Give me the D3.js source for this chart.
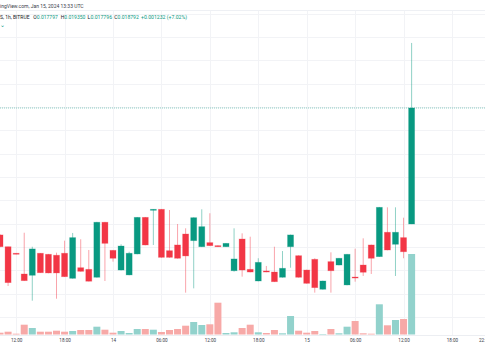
<!DOCTYPE html>
<html><head><meta charset="utf-8">
<script src="https://cdn.jsdelivr.net/npm/d3@7"></script>
<style>body{margin:0;background:#fff}svg{display:block;font-family:Roboto,"Liberation Sans",Arial,sans-serif}</style>
</head><body><svg id="c" width="485" height="360"></svg>
<script>
// hour offsets from 2024-01-14 00:00 UTC, 1h candles
const hours = [-14,-13,-12,-11,-10,-9,-8,-7,-6,-5,-4,-3,-2,-1,0,1,2,3,4,5,6,7,8,9,10,11,12,13,14,15,16,17,18,19,20,21,22,23,24,25,26,27,28,29,30,31,32,33,34,35,36,37];
const open  = [0.017703,0.017602,0.017546,0.017368,0.017357,0.017546,0.017537,0.017529,0.017546,0.017331,0.017422,0.017408,0.017340,0.017812,0.017571,0.017402,0.017360,0.017540,0.017854,0.017917,0.017923,0.017568,0.017617,0.017711,0.017654,0.017602,0.017637,0.017611,0.017602,0.017396,0.017668,0.017408,0.017308,0.017394,0.017385,0.017340,0.017602,0.017525,0.017402,0.017494,0.017237,0.017474,0.017445,0.017274,0.017342,0.017445,0.017617,0.017517,0.017726,0.017623,0.017680,0.017797];
const high  = [0.017710,0.017602,0.017548,0.017722,0.017602,0.017548,0.017540,0.017551,0.017654,0.017720,0.017666,0.017574,0.017815,0.017815,0.017574,0.017623,0.017559,0.017857,0.017857,0.017925,0.017925,0.017917,0.017797,0.017760,0.017854,0.017923,0.017889,0.017613,0.017633,0.017760,0.017717,0.017688,0.017503,0.017437,0.017602,0.017565,0.017706,0.017528,0.017405,0.017503,0.017311,0.017554,0.017506,0.017540,0.017585,0.017674,0.017620,0.017943,0.017940,0.017940,0.017851,0.019350];
const low   = [0.017598,0.017265,0.017537,0.017308,0.017139,0.017377,0.017374,0.017156,0.017342,0.017328,0.017388,0.017304,0.017337,0.017308,0.017474,0.017399,0.017357,0.017537,0.017614,0.017617,0.017508,0.017508,0.017500,0.017208,0.017245,0.017599,0.017608,0.017600,0.017600,0.017388,0.017345,0.017382,0.017305,0.017383,0.017299,0.017337,0.017422,0.017337,0.017285,0.017208,0.017234,0.017208,0.017442,0.017271,0.017302,0.017351,0.017368,0.017514,0.017571,0.017351,0.017503,0.017796];
const close = [0.017602,0.017294,0.017540,0.017311,0.017583,0.017379,0.017377,0.017377,0.017345,0.017680,0.017391,0.017306,0.017812,0.017631,0.017503,0.017608,0.017546,0.017854,0.017617,0.017923,0.017511,0.017511,0.017503,0.017523,0.017851,0.017774,0.017611,0.017602,0.017631,0.017497,0.017402,0.017385,0.017468,0.017385,0.017302,0.017417,0.017703,0.017340,0.017288,0.017251,0.017308,0.017396,0.017503,0.017537,0.017334,0.017383,0.017503,0.017940,0.017574,0.017726,0.017559,0.018792];
const volume = [18,28,8,98,65,28,28,38,28,35,45,45,78,48,18,35,15,55,55,48,25,45,55,88,125,95,102,318,15,22,65,98,22,15,45,12,185,38,18,35,5,55,12,78,135,12,8,302,92,145,155,805];

const tickHours  = [-12,-6,0,6,12,18,24,30,36,42,46];
const tickLabels = ["12:00","18:00","14","06:00","12:00","18:00","15","06:00","12:00","18:00","22:00"];
const gridHours  = [-12,-6,0,6,12,18,24,30,36,42];

const headerText = "ingView.com, Jan 15, 2024 13:33 UTC";
const legendName = "S, 1h, BITRUE";
const ohlcLabels = ["O","H","L","C"];
const ohlcValues = ["0.017797","0.019350","0.017796","0.018792"];
const changeText = "+0.001232 (+7.02%)";

const UP = "#089981", DOWN = "#f23645", UPV = "#92d2cc", DOWNV = "#f7a9a7";
const base = Date.UTC(2024,0,14);
const t = h => new Date(base + h*3600000);

const svg = d3.select("#c");
const x = d3.scaleUtc().domain([t(0), t(24)]).range([113, 306.7]);
const y = d3.scaleLinear().domain([0.0170, 0.0196]).range([316.9, 13.8]);
const yv = d3.scaleLinear().domain([0, 805]).range([334.5, 254]);

svg.append("defs").append("clipPath").attr("id","clip")
  .append("rect").attr("x",0).attr("y",10.5).attr("width",485).attr("height",324.5);

svg.append("line").attr("x1",0).attr("x2",485).attr("y1",10.5).attr("y2",10.5)
  .attr("stroke","#eef0f4").attr("stroke-width",1);

const g = svg.append("g").attr("clip-path","url(#clip)");
g.selectAll(".hg").data(y.ticks(13)).join("line")
  .attr("x1",0).attr("x2",485).attr("y1",d=>Math.round(y(d))+0.5).attr("y2",d=>Math.round(y(d))+0.5)
  .attr("stroke","#f2f3f6");
g.selectAll(".vg").data(gridHours).join("line")
  .attr("y1",10.5).attr("y2",335).attr("x1",d=>Math.round(x(t(d)))+0.5).attr("x2",d=>Math.round(x(t(d)))+0.5)
  .attr("stroke","#f2f3f6");

const data = hours.map((h,i)=>({h,o:open[i],hi:high[i],l:low[i],c:close[i],v:volume[i],up:close[i]>=open[i]}));

g.selectAll(".vol").data(data).join("rect")
  .attr("x",d=>x(t(d.h))-3.5).attr("width",7)
  .attr("y",d=>yv(d.v)).attr("height",d=>yv(0)-yv(d.v))
  .attr("fill",d=>d.up?UPV:DOWNV);

g.selectAll(".wick").data(data).join("line")
  .attr("x1",d=>x(t(d.h))).attr("x2",d=>x(t(d.h)))
  .attr("y1",d=>y(d.hi)).attr("y2",d=>y(d.l))
  .attr("stroke",d=>d.up?UP:DOWN).attr("stroke-opacity",0.45).attr("stroke-width",1);

g.selectAll(".body").data(data).join("rect")
  .attr("x",d=>x(t(d.h))-3).attr("width",6)
  .attr("y",d=>y(Math.max(d.o,d.c)))
  .attr("height",d=>Math.max(1,Math.abs(y(d.o)-y(d.c))))
  .attr("fill",d=>d.up?UP:DOWN)
  .attr("stroke",d=>d.up?UP:DOWN).attr("stroke-opacity",0.35).attr("stroke-width",0.8);

const last = data[data.length-1];
g.append("line").attr("x1",0).attr("x2",485).attr("y1",y(last.c)).attr("y2",y(last.c))
  .attr("stroke",UP).attr("stroke-opacity",0.45).attr("stroke-width",1).attr("stroke-dasharray","1,1");

svg.append("line").attr("x1",0).attr("x2",485).attr("y1",335.5).attr("y2",335.5).attr("stroke","#eceef2");
const ax = svg.append("g").attr("transform","translate(0,336)")
  .call(d3.axisBottom(x).tickValues(tickHours.map(t)).tickFormat((d,i)=>tickLabels[i]).tickSize(0).tickPadding(3));
ax.select(".domain").remove();
ax.selectAll("text").attr("font-size","4.6px").attr("fill","#3a3e4a").attr("font-family","Roboto,'Liberation Sans',Arial,sans-serif");

// header
svg.append("text").attr("x",0).attr("y",7.5).attr("font-size","5px").attr("fill","#3a3e4a").text(headerText);
const FS = "5.4px";
svg.append("text").attr("x",0).attr("y",19).attr("font-size",FS).attr("fill","#131722")
  .attr("textLength",29.5).attr("lengthAdjust","spacingAndGlyphs").text(legendName);
const legendX = [33.3, 60.8, 87.6, 114.3];
ohlcLabels.forEach((l,i)=>{
  const tx = svg.append("text").attr("x",legendX[i]).attr("y",19).attr("font-size",FS)
    .attr("textLength",24.5).attr("lengthAdjust","spacingAndGlyphs");
  tx.append("tspan").attr("fill","#131722").text(l);
  tx.append("tspan").attr("fill",UP).text(ohlcValues[i]);
});
svg.append("text").attr("x",141).attr("y",19).attr("font-size",FS).attr("fill",UP)
  .attr("textLength",46).attr("lengthAdjust","spacingAndGlyphs").text(changeText);
svg.append("text").attr("x",0).attr("y",27).attr("font-size","6px").attr("fill",UP).text("⌄");
</script></body></html>
